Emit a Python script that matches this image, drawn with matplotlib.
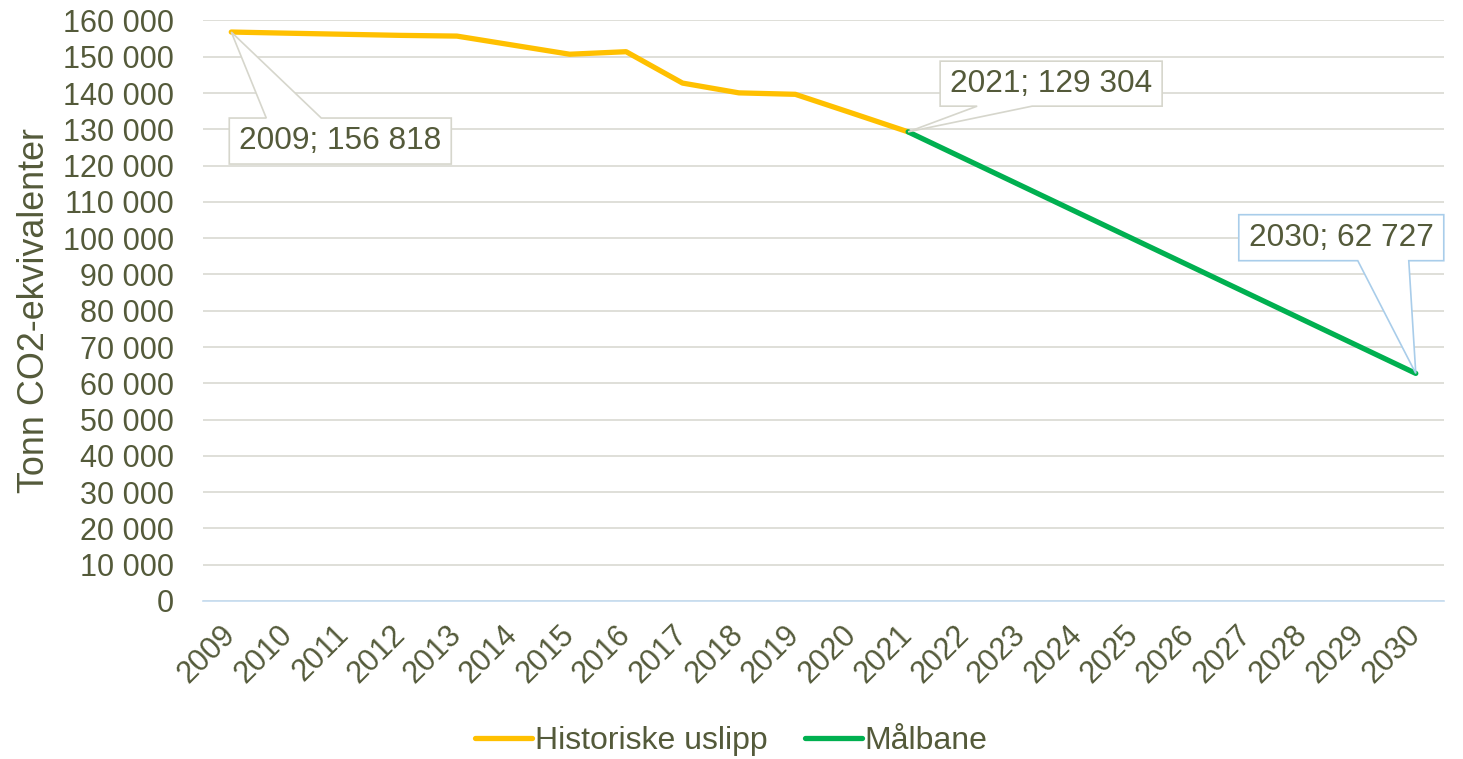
import matplotlib.pyplot as plt
import matplotlib.transforms as mtransforms
from matplotlib.patches import Polygon

# data
years = [str(y) for y in range(2009, 2031)]
hist_years = years[:13]          # 2009-2021
hist_values = [156818, 156500, 156200, 155900, 155700, 153200, 150700,
               151400, 142750, 140050, 139650, 134500, 129304]
goal_years = years[12:]          # 2021-2030
goal_values = [129304, 121907, 114509, 107112, 99715, 92318, 84920,
               77523, 70125, 62727]

text_col = "#545a3a"
plt.rcParams['font.family'] = ['Liberation Sans', 'DejaVu Sans']
fs = 22

fig = plt.figure(figsize=(14.63, 7.59), dpi=100)
ax = fig.add_axes([0.1388, 0.2082, 0.987 - 0.1388, 0.973 - 0.2082])

xpos = {y: i for i, y in enumerate(years)}
hx = [xpos[y] for y in hist_years]
gx = [xpos[y] for y in goal_years]

ax.plot(hx, hist_values, color="#FFC000", lw=3.8, solid_capstyle='round',
        solid_joinstyle='round', label="Historiske uslipp", zorder=3)
ax.plot(gx, goal_values, color="#00B050", lw=3.8, solid_capstyle='round',
        solid_joinstyle='round', label="Målbane", zorder=3)

ax.set_xlim(-0.5, len(years) - 0.5)
ax.set_ylim(0, 160000)
ax.set_yticks(range(0, 160001, 10000))
ax.set_yticklabels([f"{v:,}".replace(",", " ") for v in range(0, 160001, 10000)])
ax.set_xticks(range(len(years)))
ax.set_xticklabels(years, rotation=45, ha='right', va='center', rotation_mode='anchor')

ax.grid(axis='y', color="#d9d9d2", lw=1.2)
ax.set_axisbelow(True)
for s in ['top', 'right', 'left']:
    ax.spines[s].set_visible(False)
ax.spines['bottom'].set_color("#c5dcf0")
ax.spines['bottom'].set_linewidth(1.2)
ax.tick_params(axis='both', length=0, labelsize=fs, colors=text_col)
ax.tick_params(axis='y', pad=21)
ax.tick_params(axis='x', pad=21)

ax.set_ylabel("Tonn CO2-ekvivalenter", fontsize=25.8, color=text_col)
ax.yaxis.set_label_coords(-0.1217, 0.5)

# callouts: box and wedge in pixels relative to the data point (y up)
def callout(year, value, box, wedge, edge, label):
    x0, x1, ytop, ybot = box
    w0, w1 = wedge
    if ybot > 0:   # box above point, wedge from bottom edge
        pts = [(x0, ybot), (w0, ybot), (0, 0), (w1, ybot), (x1, ybot),
               (x1, ytop), (x0, ytop)]
    else:          # box below point, wedge from top edge
        pts = [(x0, ytop), (w0, ytop), (0, 0), (w1, ytop), (x1, ytop),
               (x1, ybot), (x0, ybot)]
    pts = [(px / 100, py / 100) for px, py in pts]
    trans = fig.dpi_scale_trans + mtransforms.ScaledTranslation(
        xpos[year], value, ax.transData)
    ax.add_patch(Polygon(pts, closed=True, fc='white', ec=edge, lw=1.2,
                         transform=trans, zorder=5, clip_on=False))
    ax.text((x0 + x1) / 200, (ytop + ybot) / 200, label, transform=trans,
            ha='center', va='center', fontsize=22.8, color=text_col, zorder=6)

callout(hist_years[0], hist_values[0], (-2, 220, -86, -132), (35, 90),
        "#d6d6cc", "2009; 156 818")
callout(goal_years[0], goal_values[0], (32, 254, 70.7, 25.7), (69, 124),
        "#d6d6cc", "2021; 129 304")
callout(goal_years[-1], goal_values[-1], (-177, 28, 158.7, 112.7), (-58, -7),
        "#a9cdea", "2030; 62 727")

leg = fig.legend(loc='center', bbox_to_anchor=(0.5, 1 - 741 / 759), ncol=2,
                 frameon=False, fontsize=23, handlelength=1.78,
                 handletextpad=0.1, columnspacing=1.15)
for t in leg.get_texts():
    t.set_color(text_col)

fig.savefig("out.png", dpi=100)
